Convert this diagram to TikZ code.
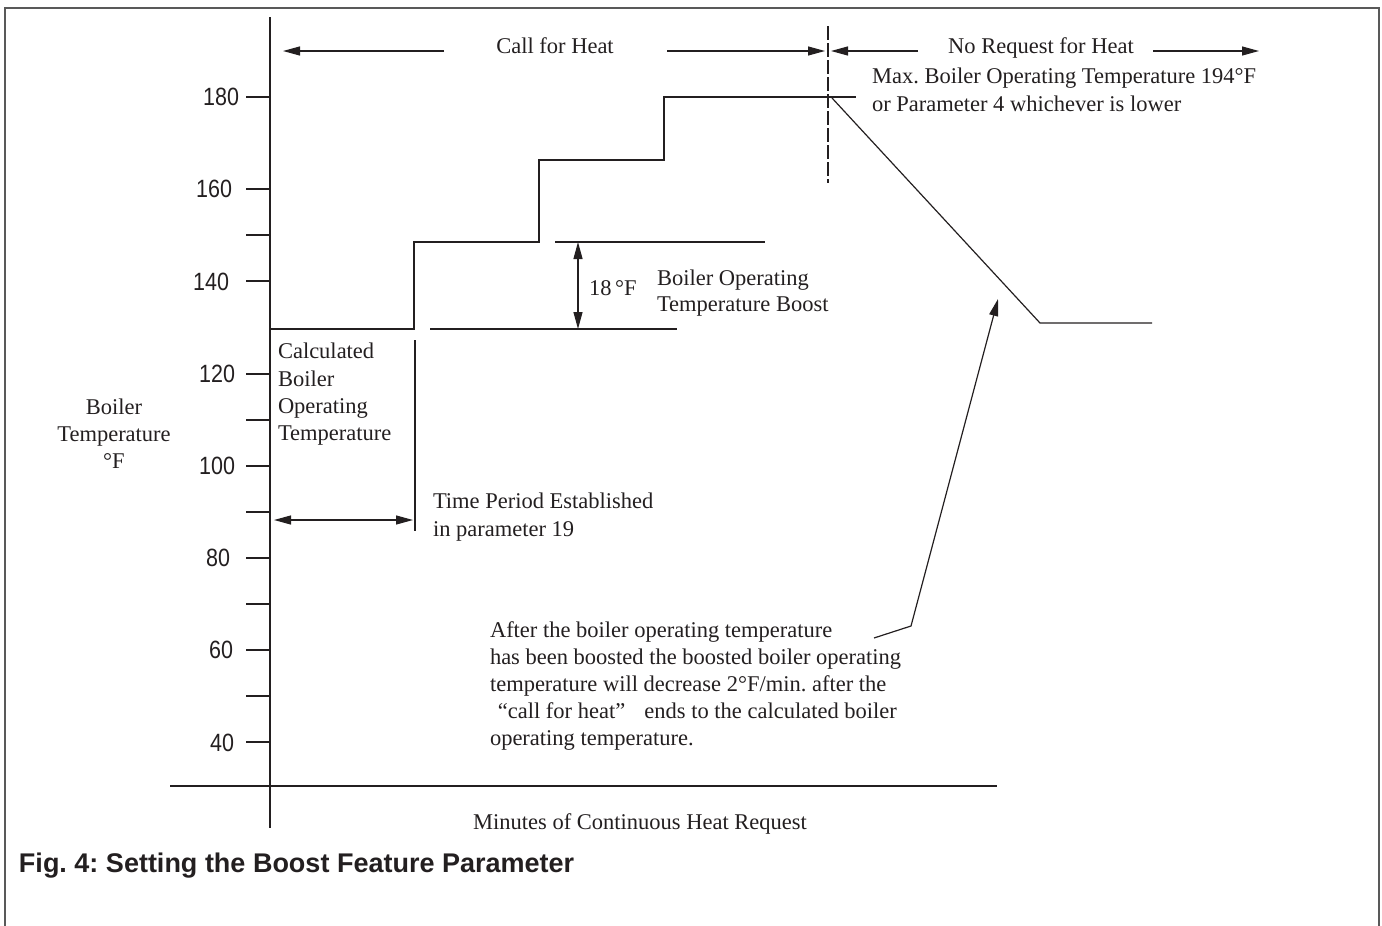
\documentclass[tikz,border=0pt]{standalone}
\usepackage{fontspec}
\setmainfont{Liberation Serif}
\newfontfamily\numfont[FakeStretch=0.86]{Liberation Sans}
\newfontfamily\capfont{Liberation Sans}
\usetikzlibrary{arrows.meta}
\definecolor{ink}{HTML}{231F20}
\frenchspacing
\begin{document}
\begin{tikzpicture}[x=1pt,y=-1pt,
  every node/.style={inner sep=0pt, outer sep=0pt, text=ink},
  txt/.style={font=\fontsize{22.5}{27}\selectfont, align=left},
  num/.style={font=\numfont\fontsize{25}{25}\selectfont, anchor=east},
  axisline/.style={draw=ink, line width=2.4pt},
  stepline/.style={draw=ink, line width=2.2pt},
  thinline/.style={draw=ink, line width=1.2pt},
  tickline/.style={draw=ink, line width=2pt},
  tipend/.style={-{Triangle[length=17pt,width=9pt]}},
  tipboth/.style={{Triangle[length=17pt,width=9pt]}-{Triangle[length=17pt,width=9pt]}}
]
\path[use as bounding box] (0,0) rectangle (1382,926);
% frame
\draw[line width=1.5pt, black!65] (5,926) -- (5,8) -- (1379,8) -- (1379,926);

% axes
\coordinate (ytop) at (270,17);
\coordinate (ybot) at (270,828);
\coordinate (xl) at (170,786);
\coordinate (xr) at (997,786);
\draw[axisline] (ytop) -- (ybot);
\draw[axisline] (xl) -- (xr);

% ticks and labels
\foreach \t/\r in {180/239,160/232,140/229,120/235,100/235,80/230,60/233,40/234}{
  \pgfmathsetmacro\yy{97+(180-\t)*4.61}
  \draw[tickline] (246,\yy) -- (270,\yy);
  \node[num] (lab\t) at (\r,\yy) {\t};
}
\foreach \t in {150,110,90,70,50}{
  \pgfmathsetmacro\yy{97+(180-\t)*4.61}
  \draw[tickline] (246,\yy) -- (270,\yy);
}

% step curve
\coordinate (s0) at (270,329);
\coordinate (s1) at (414,329);
\coordinate (s2) at (414,242);
\coordinate (s3) at (539,242);
\coordinate (s4) at (539,160);
\coordinate (s5) at (664,160);
\coordinate (s6) at (664,97);
\coordinate (s7) at (856,97);
\draw[stepline] (s0) -- (s1) -- (s2) -- (s3) -- (s4) -- (s5) -- (s6) -- (s7);

% dashed divider
\coordinate (dtop) at (828,26);
\coordinate (dbot) at (828,183);
\draw[draw=ink, line width=1.8pt, dash pattern=on 14pt off 3pt] (dtop) -- (dbot);

% decay
\coordinate (d0) at (832,98);
\coordinate (d1) at (1040,323);
\coordinate (d2) at (1152,323);
\draw[thinline] (d0) -- (d1) -- (d2);

% boost reference lines
\coordinate (b1l) at (555,242); \coordinate (b1r) at (765,242);
\coordinate (b0l) at (430,329); \coordinate (b0r) at (677,329);
\draw[thinline] (b1l) -- (b1r);
\draw[thinline] (b0l) -- (b0r);
\coordinate (ba) at (578,242); \coordinate (bb) at (578,329);
\draw[thinline, tipboth] (ba) -- (bb);
\node[txt, anchor=base west] (deg) at (589,295) {18\,°F};
\node[txt, anchor=base west] (boost1) at (657,285) {Boiler Operating};
\node[txt, anchor=base west] (boost2) at (657,311) {Temperature Boost};

% time period
\coordinate (tp0) at (415,340); \coordinate (tp1) at (415,531);
\draw[thinline] (tp0) -- (tp1);
\coordinate (ta) at (274,520); \coordinate (tb) at (413,520);
\draw[thinline, tipboth] (ta) -- (tb);
\node[txt, anchor=base west] (tpa) at (433,508) {Time Period Established};
\node[txt, anchor=base west] (tpb) at (433,536) {in parameter 19};

% calculated
\node[txt, anchor=base west] (c1) at (278,358) {Calculated};
\node[txt, anchor=base west] (c2) at (278,386) {Boiler};
\node[txt, anchor=base west] (c3) at (278,413) {Operating};
\node[txt, anchor=base west] (c4) at (278,440) {Temperature};

% y label
\node[txt, anchor=base] (y1) at (114,414) {Boiler};
\node[txt, anchor=base] (y2) at (114,441) {Temperature};
\node[txt, anchor=base] (y3) at (114,468) {°F};

% top arrows
\coordinate (a1t) at (283,51); \coordinate (a1s) at (444,51);
\draw[thinline, tipend] (a1s) -- (a1t);
\node[txt, anchor=base] (cfh) at (555,53) {Call for Heat};
\coordinate (a2s) at (667,51); \coordinate (a2t) at (825,51);
\draw[thinline, tipend] (a2s) -- (a2t);
\coordinate (a3t) at (831,51); \coordinate (a3s) at (918,51);
\draw[thinline, tipend] (a3s) -- (a3t);
\node[txt, anchor=base] (nrh) at (1041,53) {No Request for Heat};
\coordinate (a4s) at (1153,51); \coordinate (a4t) at (1259,51);
\draw[thinline, tipend] (a4s) -- (a4t);

% max temp note
\node[txt, anchor=base west] (m1) at (872,83) {Max. Boiler Operating Temperature 194°F};
\node[txt, anchor=base west] (m2) at (872,111) {or Parameter 4 whichever is lower};

% paragraph
\node[txt, anchor=base west] (p1) at (490,637) {After the boiler operating temperature};
\node[txt, anchor=base west] (p2) at (490,664) {has been boosted the boosted boiler operating};
\node[txt, anchor=base west] (p3) at (490,691) {temperature will decrease 2°F/min. after the};
\node[txt, anchor=base west] (p4) at (490,718) {\hspace{0.35em}“call for heat”\hspace{0.6em} ends to the calculated boiler};
\node[txt, anchor=base west] (p5) at (490,745) {operating temperature.};

% pointer
\coordinate (q0) at (874,638);
\coordinate (q1) at (911,626);
\coordinate (q2) at (998,299);
\draw[thinline, tipend] (q0) -- (q1) -- (q2);

% x label
\node[txt, anchor=base] (xlab) at (640,829) {Minutes of Continuous Heat Request};

% caption
\node[anchor=base west, font=\capfont\bfseries\fontsize{27}{30}\selectfont] (cap) at (19,872) {Fig. 4: Setting the Boost Feature Parameter};
\end{tikzpicture}
\end{document}
